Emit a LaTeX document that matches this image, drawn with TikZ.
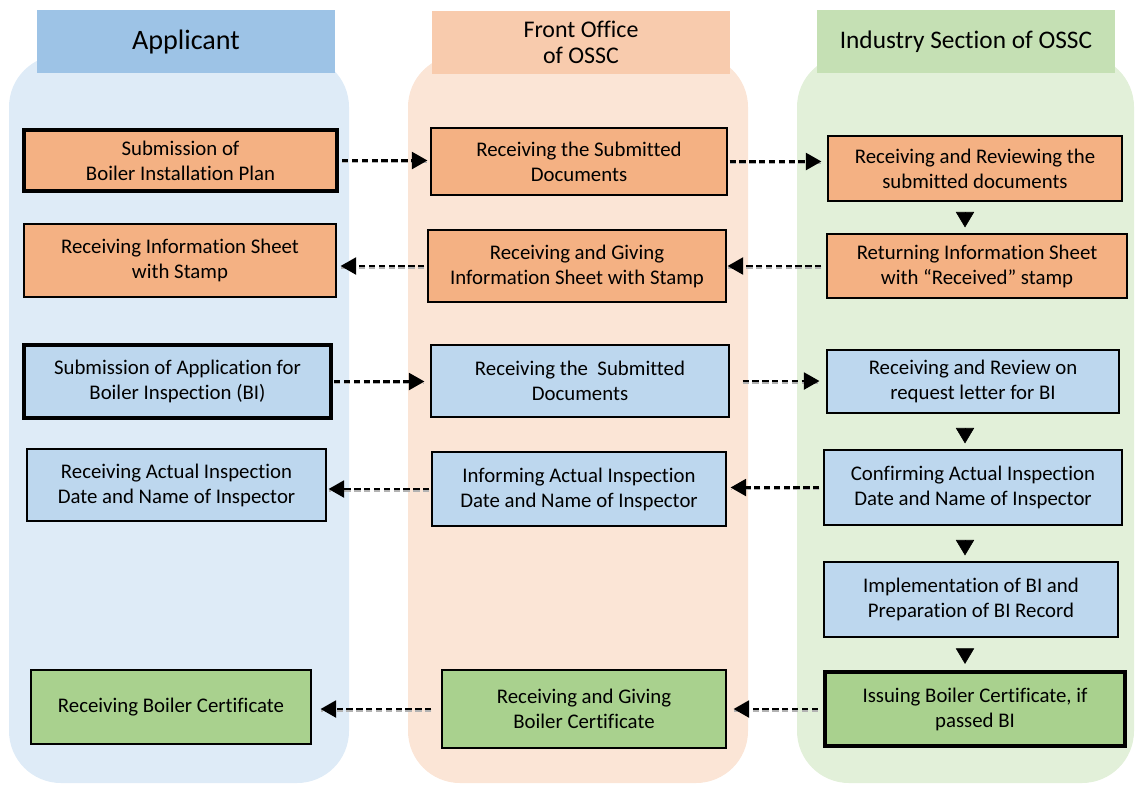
\documentclass[tikz,border=0pt]{standalone}
\usepackage{fontspec}
\setmainfont{Carlito}[Ligatures={TeX,NoCommon}]
\usepackage{xcolor}
\usetikzlibrary{arrows.meta, positioning}

\definecolor{laneblue}{HTML}{DEEBF7}
\definecolor{laneorange}{HTML}{FBE5D6}
\definecolor{lanegreen}{HTML}{E2F0D9}
\definecolor{headblue}{HTML}{9DC3E6}
\definecolor{headorange}{HTML}{F8CBAD}
\definecolor{headgreen}{HTML}{C5E0B4}
\definecolor{boxorange}{HTML}{F4B183}
\definecolor{boxblue}{HTML}{BDD7EE}
\definecolor{boxgreen}{HTML}{A9D18E}

\def\u{0.025cm}

\tikzset{
  box/.style={draw=black, line width=0.8pt, align=center, inner sep=2pt,
    font=\fontsize{14.8}{17.7}\selectfont},
  bold box/.style={line width=3pt},
  obox/.style={box, fill=boxorange},
  bbox/.style={box, fill=boxblue},
  gbox/.style={box, fill=boxgreen},
  header/.style={align=center, inner sep=0pt},
  flow/.style={draw=black, line width=1.7pt, dash pattern=on 4.5pt off 2.5pt,
    -{Triangle[length=11pt,width=12pt]},
    preaction={draw=gray!60, line width=1pt, dash pattern=on 4.5pt off 2.5pt, -,
      transform canvas={yshift=-1.5pt}}},
  down/.style={line width=0.4pt, -{Triangle[length=11pt,width=13pt]},
    shorten <=11*\u, shorten >=6*\u}
}

\begin{document}
\begin{tikzpicture}[x=0.025cm, y=-0.025cm]
\useasboundingbox (0,0) rectangle (1135,785);

% swim lanes
\fill[laneblue, rounded corners=1.3cm] (9,55) rectangle (349,783);
\fill[laneorange, rounded corners=1.3cm] (408,55) rectangle (748,783);
\fill[lanegreen, rounded corners=1.3cm] (797,55) rectangle (1134,783);

% lane headers
\node[header, fill=headblue, minimum width=298*\u, minimum height=63*\u,
  font=\fontsize{20}{24}\selectfont] (hA) at (186,41.5) {Applicant};
\node[header, fill=headorange, minimum width=298*\u, minimum height=63*\u,
  font=\fontsize{17}{18.5}\selectfont] (hF) at (581,42.5) {Front Office\\of OSSC};
\node[header, fill=headgreen, minimum width=298*\u, minimum height=63*\u,
  font=\fontsize{18}{22}\selectfont] (hI) at (966,41.5) {Industry Section of OSSC};

% boiler installation plan
\node[obox, bold box, minimum width=313*\u, minimum height=61*\u] (a1) at (180.5,160.5) {Submission of\\Boiler Installation Plan};
\node[obox, minimum width=296*\u, minimum height=67*\u] (f1) at (579,161.5) {Receiving the\ Submitted\\Documents};
\node[obox, minimum width=294*\u, minimum height=65*\u] (i1) at (975,168.5) {Receiving and Reviewing the\\submitted\ documents};
\node[obox, minimum width=312*\u, minimum height=73*\u] (a2) at (180,260.5) {Receiving Information Sheet\\with Stamp};
\node[obox, minimum width=298*\u, minimum height=72*\u] (f2) at (577,266) {Receiving and Giving\\Information Sheet with Stamp};
\node[obox, minimum width=300*\u, minimum height=64*\u] (i2) at (977,266) {Returning Information Sheet\\with “Received” stamp};

% boiler inspection
\node[bbox, bold box, minimum width=307*\u, minimum height=73*\u] (a3) at (177.5,381.5) {Submission of Application for\\Boiler Inspection (BI)};
\node[bbox, minimum width=298*\u, minimum height=72*\u] (f3) at (580,381) {Receiving the\ \ Submitted\\Documents};
\node[bbox, minimum width=292*\u, minimum height=63*\u] (i3) at (973,381.5) {Receiving and Review on\\request letter for BI};
\node[bbox, minimum width=299*\u, minimum height=72*\u] (a4) at (176.5,485) {Receiving Actual Inspection\\Date and Name of Inspector};
\node[bbox, minimum width=294*\u, minimum height=74*\u] (f4) at (579,489) {Informing Actual Inspection\\Date and Name of Inspector};
\node[bbox, minimum width=298*\u, minimum height=75*\u] (i4) at (973,487.5) {Confirming Actual Inspection\\Date and Name of Inspector};
\node[bbox, minimum width=294*\u, minimum height=75*\u] (i5) at (971,599.5) {Implementation of BI and\\Preparation of BI Record};

% certificate
\node[gbox, minimum width=280*\u, minimum height=74*\u] (a6) at (171,707) {Receiving Boiler Certificate};
\node[gbox, minimum width=284*\u, minimum height=78*\u] (f6) at (584,709) {Receiving and Giving\\Boiler Certificate};
\node[gbox, bold box, minimum width=300*\u, minimum height=74*\u] (i6) at (975,709) {Issuing Boiler Certificate, if\\passed BI};

% flows between lanes
\draw[flow, shorten <=3*\u, shorten >=3*\u] (a1.east) -- (a1.east -| f1.west);
\draw[flow, shorten <=2*\u, shorten >=6*\u] (f1.east) -- (f1.east -| i1.west);
\draw[flow, shorten <=5*\u, shorten >=1*\u] (i2.west) -- (i2.west -| f2.east);
\draw[flow, shorten <=3*\u, shorten >=4*\u] (f2.west) -- (f2.west -| a2.east);
\draw[flow, shorten <=1*\u, shorten >=6*\u] (a3.east) -- (a3.east -| f3.west);
\draw[flow, shorten <=13*\u, shorten >=7*\u] (f3.east) -- (f3.east -| i3.west);
\draw[flow, shorten <=4*\u, shorten >=4*\u] (i4.west) -- (i4.west -| f4.east);
\draw[flow, shorten <=2*\u, shorten >=2*\u] (f4.west) -- (f4.west -| a4.east);
\draw[flow, shorten <=5*\u, shorten >=7*\u] (i6.west) -- (i6.west -| f6.east);
\draw[flow, shorten <=10*\u, shorten >=9*\u] (f6.west) -- (f6.west -| a6.east);

% steps inside the industry section
\coordinate (dx) at (965,0);
\draw[down] (i1.south -| dx) -- (i2.north -| dx);
\draw[down, shorten <=15*\u] (i3.south -| dx) -- (i4.north -| dx);
\draw[down, shorten <=15*\u] (i4.south -| dx) -- (i5.north -| dx);
\draw[down, shorten <=13*\u] (i5.south -| dx) -- (i6.north -| dx);
\end{tikzpicture}
\end{document}
